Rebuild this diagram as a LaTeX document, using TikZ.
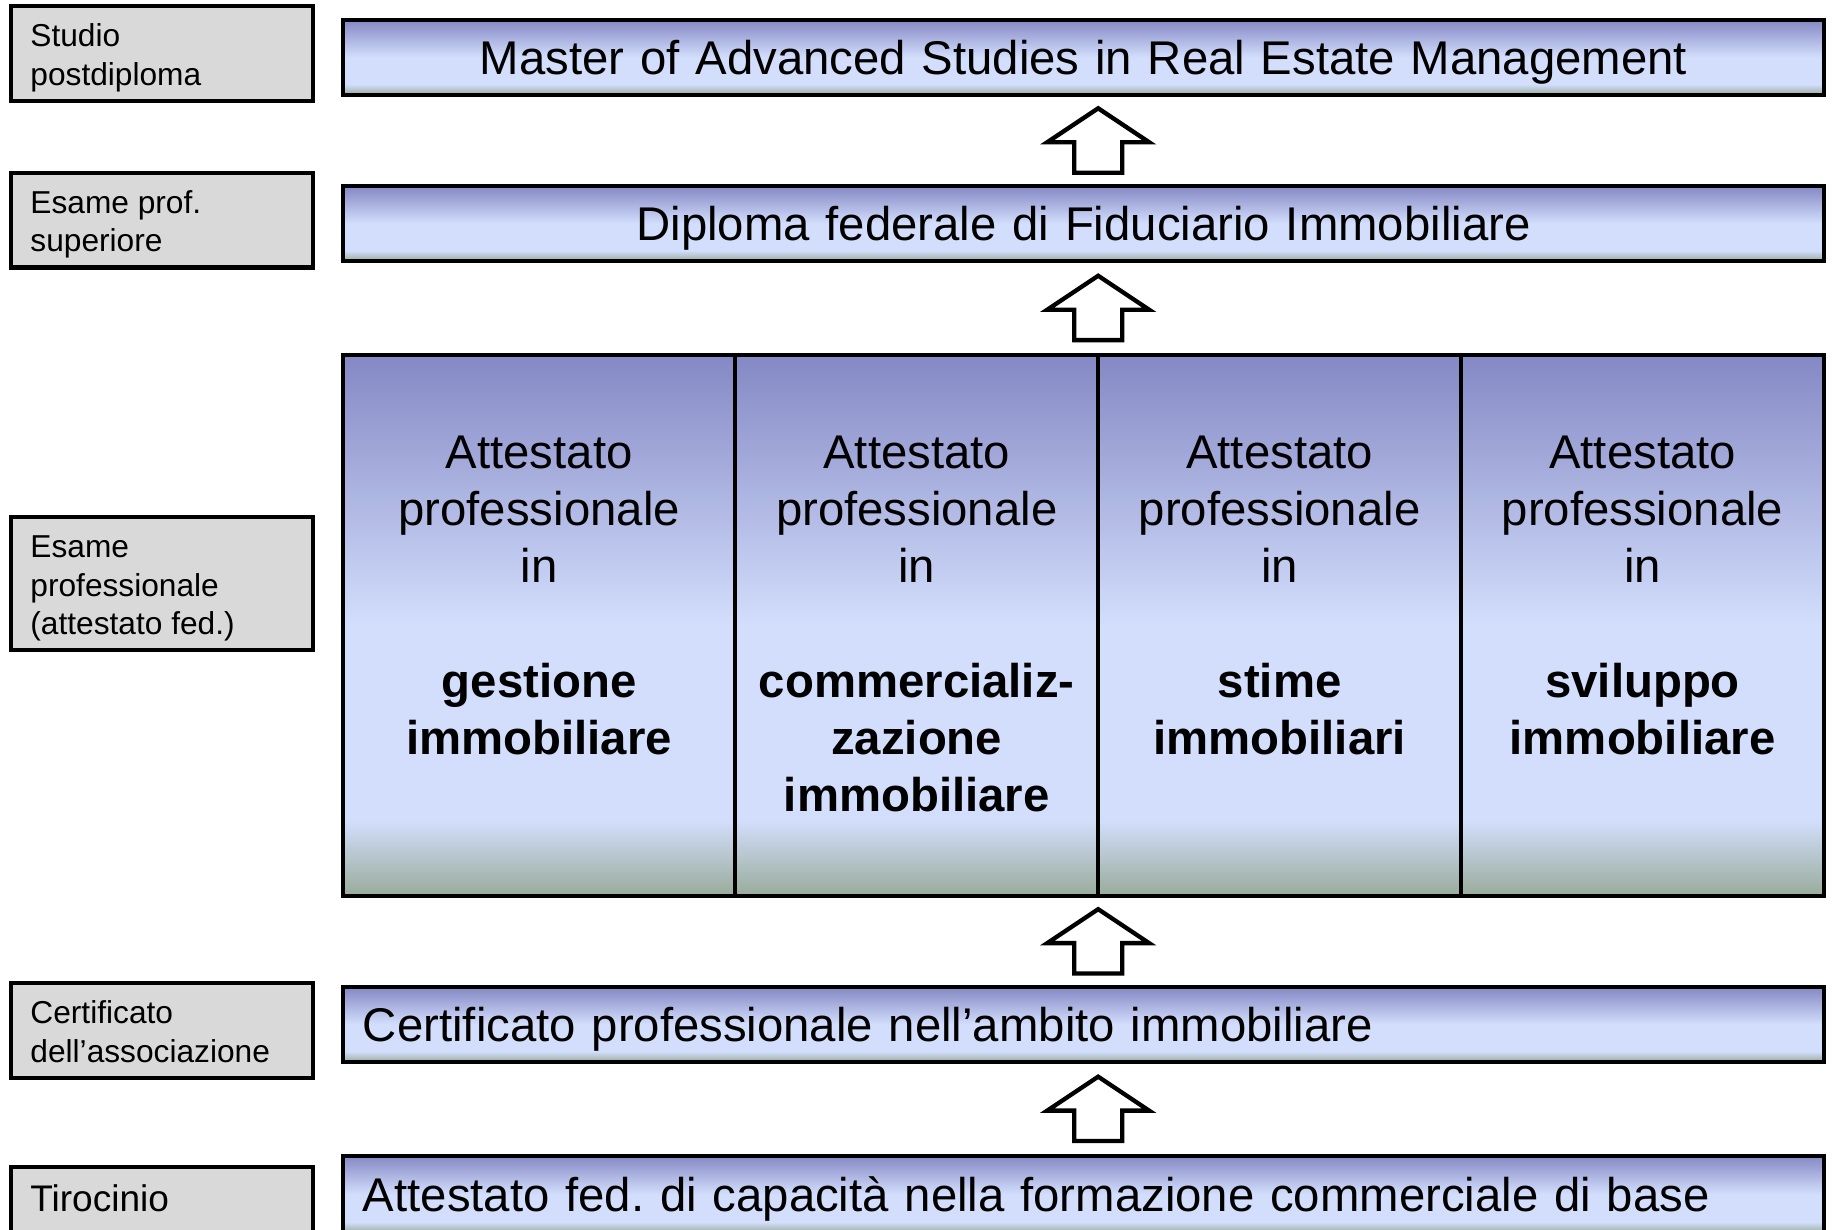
\documentclass[tikz,border=0pt]{standalone}
\usepackage{fontspec}
\setmainfont{Liberation Sans}
\usetikzlibrary{calc}
\frenchspacing
\definecolor{barblue}{RGB}{132,136,196}
\definecolor{barlight}{RGB}{211,222,252}
\definecolor{bargreen}{RGB}{152,172,154}
\definecolor{labelgray}{RGB}{217,217,217}
\pgfdeclareverticalshading{barshade}{100bp}{color(0bp)=(bargreen); color(25bp)=(bargreen); color(32bp)=(barlight); color(50bp)=(barlight); color(75bp)=(barblue); color(100bp)=(barblue)}
\newcommand{\lbltext}[3]{\parbox[c][#1][t]{4.5cm}{\raggedright\rule{0pt}{#2}#3}}
\newcommand{\coltext}[2]{\parbox[c][9.24cm][t]{#1}{\centering\rule{0pt}{1.94cm}#2}}
\tikzset{
  lbl/.style={draw,line width=2pt,fill=labelgray,anchor=north west,outer sep=0pt,inner xsep=0.33cm,inner ysep=0pt,font=\fontsize{15.4}{18.8}\selectfont},
  bar/.style={draw,line width=2pt,shading=barshade,anchor=north west,outer sep=0pt,minimum width=25.3cm,minimum height=1.28cm,text width=24.62cm,inner xsep=0.34cm,inner ysep=0pt,text height=16.5pt,text depth=0pt,font=\fontsize{23}{27.8}\selectfont},
  col/.style={draw,line width=2pt,shading=barshade,anchor=north west,outer sep=0pt,inner sep=0pt,font=\fontsize{23}{27.8}\selectfont},
  arrline/.style={draw,line width=2.1pt,fill=white,line join=miter},
  upar/.pic={\path[arrline] (0,-27.5) -- (43.5,1.5) -- (20.5,1.5) -- (20.5,27.5) -- (-20.5,27.5) -- (-20.5,1.5) -- (-43.5,1.5) -- cycle;}
}
\begin{document}
\begin{tikzpicture}[x=0.02cm,y=-0.02cm]
\clip (0,0) rectangle (1568,1050);
\node[lbl] (studio) at (9.5,5.5) {\lbltext{1.62cm}{0.69cm}{Studio\\postdiploma}};
\node[lbl] (esasup) at (9.5,147.5) {\lbltext{1.62cm}{0.69cm}{Esame prof.\\superiore}};
\node[lbl] (esaprof) at (9.5,441.5) {\lbltext{2.28cm}{0.69cm}{Esame\\professionale\\(attestato fed.)}};
\node[lbl] (assoc) at (9.5,839.5) {\lbltext{1.62cm}{0.69cm}{Certificato\\dell'associazione}};
\node[lbl,font=\fontsize{18}{21.6}\selectfont] (tiro) at (9.5,996.5) {\lbltext{1.62cm}{0.77cm}{Tirocinio}};
\node[bar,align=center] (mas) at (293,17) {Master of Advanced Studies in Real Estate Management};
\node[bar,align=center] (dip) at (293,159) {Diploma federale di Fiduciario Immobiliare};
\node[col] (gest) at (293,303) {\coltext{6.7cm}{Attestato\\professionale\\in\\\mbox{}\\\textbf{gestione}\\\textbf{immobiliare}}};
\node[col] (comm) at (gest.north east) {\coltext{6.2cm}{Attestato\\professionale\\in\\\mbox{}\\\textbf{commercializ-}\\\textbf{zazione}\\\textbf{immobiliare}}};
\node[col] (stime) at (comm.north east) {\coltext{6.2cm}{Attestato\\professionale\\in\\\mbox{}\\\textbf{stime}\\\textbf{immobiliari}}};
\node[col] (svil) at (stime.north east) {\coltext{6.2cm}{Attestato\\professionale\\in\\\mbox{}\\\textbf{sviluppo}\\\textbf{immobiliare}}};
\node[bar,align=left] (cert) at (293,843) {Certificato professionale nell'ambito immobiliare};
\node[bar,align=left,minimum height=1.32cm] (att) at (293,987) {Attestato fed. di capacità nella formazione commerciale di base};
\coordinate (a1) at ($(mas.south)!.5!(dip.north)$);
\coordinate (a2) at ($(dip.south)!.5!(comm.north)$);
\coordinate (a3) at ($(comm.south)!.5!(cert.north)$);
\coordinate (a4) at ($(cert.south)!.5!(att.north)$);
\pic at (a1 -| comm.east) {upar};
\pic at (a2 -| comm.east) {upar};
\pic at (a3 -| comm.east) {upar};
\pic at (a4 -| comm.east) {upar};
\end{tikzpicture}
\end{document}
